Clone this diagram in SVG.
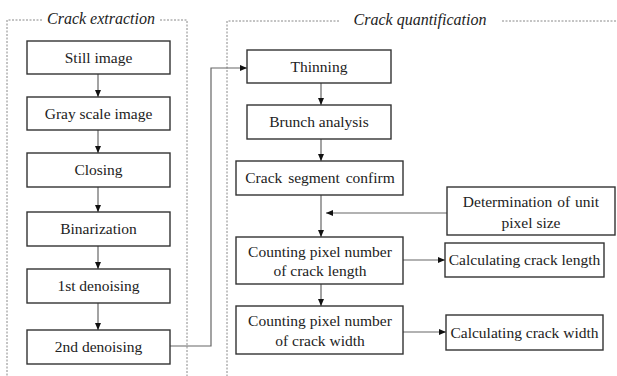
<svg xmlns="http://www.w3.org/2000/svg" width="617" height="376" viewBox="0 0 617 376">
<style>
.box{fill:#fff;stroke:#333;stroke-width:1.4}
.t{font-family:'Liberation Serif','Tinos','Times New Roman','DejaVu Serif',serif;font-size:15.5px;fill:#222;text-anchor:middle}
.ti{font-family:'Liberation Serif','Tinos','Times New Roman','DejaVu Serif',serif;font-size:16px;font-style:italic;fill:#222;text-anchor:middle}
.dash{fill:none;stroke:#888;stroke-width:1;stroke-dasharray:2,1.5}
.c{fill:none;stroke:#666;stroke-width:1.2}
</style>
<defs>
<marker id="ah" markerWidth="8" markerHeight="8" refX="7" refY="4" orient="auto" markerUnits="userSpaceOnUse">
<path d="M0,1 L7,4 L0,7 Z" fill="#111"/>
</marker>
</defs>
<rect width="617" height="376" fill="#fff"/>
<g id="panel-extraction">
<path class="dash" d="M42,20 H7 V376 M160,20 H187 V376"/>
<text class="ti" x="101" y="24">Crack extraction</text>
</g>
<g id="panel-quantification">
<path class="dash" d="M339,21 H227 V376 M502,21 H617"/>
<text class="ti" x="420" y="25">Crack quantification</text>
</g>
<g id="connectors">
<path class="c" d="M98,74 V97" marker-end="url(#ah)"/>
<path class="c" d="M98,130 V153" marker-end="url(#ah)"/>
<path class="c" d="M98,187 V212" marker-end="url(#ah)"/>
<path class="c" d="M98,246 V269" marker-end="url(#ah)"/>
<path class="c" d="M98,303 V330" marker-end="url(#ah)"/>
<path class="c" d="M170,346 H211 V68 H247" marker-end="url(#ah)"/>
<path class="c" d="M321,83 V105" marker-end="url(#ah)"/>
<path class="c" d="M321,139 V161" marker-end="url(#ah)"/>
<path class="c" d="M321,195 V237" marker-end="url(#ah)"/>
<path class="c" d="M447,213 H326" marker-end="url(#ah)"/>
<path class="c" d="M403,260 H445" marker-end="url(#ah)"/>
<path class="c" d="M321,284 V306" marker-end="url(#ah)"/>
<path class="c" d="M403,332 H446" marker-end="url(#ah)"/>
</g>
<g id="still-image"><rect class="box" x="27" y="41" width="143" height="33"/><text class="t" x="98.5" y="63">Still image</text></g>
<g id="gray-scale-image"><rect class="box" x="27" y="97" width="143" height="33"/><text class="t" x="98.5" y="119">Gray scale image</text></g>
<g id="closing"><rect class="box" x="27" y="153" width="143" height="34"/><text class="t" x="98.5" y="175">Closing</text></g>
<g id="binarization"><rect class="box" x="27" y="212" width="143" height="34"/><text class="t" x="98.5" y="234">Binarization</text></g>
<g id="denoising-1"><rect class="box" x="27" y="269" width="143" height="34"/><text class="t" x="98.5" y="291">1st denoising</text></g>
<g id="denoising-2"><rect class="box" x="27" y="330" width="143" height="34"/><text class="t" x="98.5" y="352">2nd denoising</text></g>
<g id="thinning"><rect class="box" x="247" y="50" width="144" height="33"/><text class="t" x="319" y="72">Thinning</text></g>
<g id="brunch-analysis"><rect class="box" x="247" y="105" width="144" height="34"/><text class="t" x="319" y="127">Brunch analysis</text></g>
<g id="crack-segment-confirm"><rect class="box" x="236" y="161" width="167" height="34"/><text class="t" x="320" y="183" word-spacing="2">Crack segment confirm</text></g>
<g id="unit-pixel-size"><rect class="box" x="447" y="187" width="168" height="48"/><text class="t" x="531" y="207" word-spacing="1">Determination of unit</text><text class="t" x="531" y="228">pixel size</text></g>
<g id="count-length"><rect class="box" x="236" y="237" width="167" height="47"/><text class="t" x="320" y="257">Counting pixel number</text><text class="t" x="320" y="276">of crack length</text></g>
<g id="calc-length"><rect class="box" x="445" y="243" width="159" height="34"/><text class="t" x="524.5" y="265">Calculating crack length</text></g>
<g id="count-width"><rect class="box" x="236" y="306" width="167" height="48"/><text class="t" x="320" y="326">Counting pixel number</text><text class="t" x="320" y="346">of crack width</text></g>
<g id="calc-width"><rect class="box" x="446" y="315" width="157" height="35"/><text class="t" x="524.5" y="338">Calculating crack width</text></g>
</svg>
